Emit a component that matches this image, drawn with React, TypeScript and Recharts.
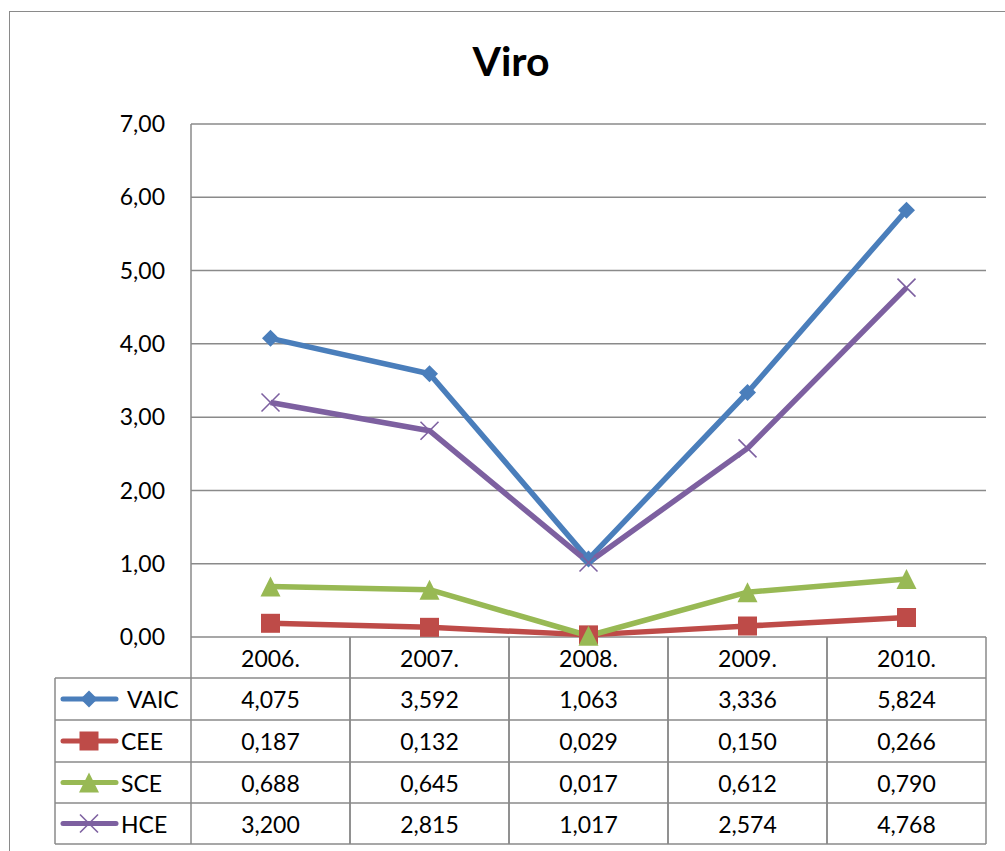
import React from 'react';
import { LineChart, Line, XAxis, YAxis, CartesianGrid } from 'recharts';

const categories = ['2006.', '2007.', '2008.', '2009.', '2010.'];
const VAIC = [4.075, 3.592, 1.063, 3.336, 5.824];
const CEE = [0.187, 0.132, 0.029, 0.150, 0.266];
const SCE = [0.688, 0.645, 0.017, 0.612, 0.790];
const HCE = [3.200, 2.815, 1.017, 2.574, 4.768];
const yTicks = [0, 1, 2, 3, 4, 5, 6, 7];
const seriesNames = ['VAIC', 'CEE', 'SCE', 'HCE'];
const seriesValues = [VAIC, CEE, SCE, HCE];

const COLORS = ['#4A7EBB', '#BE4B48', '#98B954', '#7D60A0'];
const GRID = '#8a8a8a';
const FONT = 'Lato, "Open Sans", sans-serif';

const data = categories.map((c, i) => ({
  cat: c,
  VAIC: VAIC[i],
  CEE: CEE[i],
  SCE: SCE[i],
  HCE: HCE[i],
}));

const W = 1005;
const H = 851;
const PLOT_LEFT = 191;
const PLOT_RIGHT = 986;
const PLOT_TOP = 124;
const PLOT_BOTTOM = 637;
const COL_W = (PLOT_RIGHT - PLOT_LEFT) / categories.length;
const ROW_OFF = [0, 41, 83, 125, 166, 207];
const LEG_LEFT = 55;
const FS = 23;

const fmt3 = (v: number) => v.toFixed(3).replace('.', ',');
const fmt2 = (v: number) => v.toFixed(2).replace('.', ',');

function Marker({ kind, cx, cy, color }: { kind: number; cx: number; cy: number; color: string }) {
  if (kind === 0) {
    const r = 8.5;
    return <polygon points={`${cx},${cy - r} ${cx + r},${cy} ${cx},${cy + r} ${cx - r},${cy}`} fill={color} />;
  }
  if (kind === 1) {
    const s = 19;
    return <rect x={cx - s / 2} y={cy - s / 2} width={s} height={s} fill={color} />;
  }
  if (kind === 2) {
    const s = 20;
    return (
      <polygon
        points={`${cx},${cy - s / 2} ${cx + s / 2},${cy + s / 2} ${cx - s / 2},${cy + s / 2}`}
        fill={color}
      />
    );
  }
  const r = 9;
  return (
    <g stroke={color} strokeWidth={1.6}>
      <line x1={cx - r} y1={cy - r} x2={cx + r} y2={cy + r} />
      <line x1={cx - r} y1={cy + r} x2={cx + r} y2={cy - r} />
    </g>
  );
}

const makeDot = (kind: number) => (props: any) => {
  const { cx, cy, index } = props;
  return (
    <g key={`dot-${kind}-${index}`}>
      <Marker kind={kind} cx={cx} cy={cy} color={COLORS[kind]} />
    </g>
  );
};

const TableTick = (props: any) => {
  const { x, y, payload } = props;
  const i = payload.index;
  const left = x - COL_W / 2;
  const right = x + COL_W / 2;
  const top = y;
  const textStyle = { fontFamily: FONT, fontSize: FS, fill: '#000' } as any;
  return (
    <g>
      {ROW_OFF.slice(1).map((o, k) => (
        <line key={`h${k}`} x1={left} x2={right} y1={top + o} y2={top + o} stroke={GRID} strokeWidth={1.5} />
      ))}
      <line x1={left} x2={left} y1={top} y2={top + ROW_OFF[5]} stroke={GRID} strokeWidth={1.5} />
      <line x1={right} x2={right} y1={top} y2={top + ROW_OFF[5]} stroke={GRID} strokeWidth={1.5} />
      <text x={x} y={top + (ROW_OFF[0] + ROW_OFF[1]) / 2} textAnchor="middle" dominantBaseline="central" style={textStyle}>
        {payload.value}
      </text>
      {seriesValues.map((vals, r) => (
        <text
          key={`v${r}`}
          x={x}
          y={top + (ROW_OFF[r + 1] + ROW_OFF[r + 2]) / 2}
          textAnchor="middle"
          dominantBaseline="central"
          style={textStyle}
        >
          {fmt3(vals[i])}
        </text>
      ))}
      {i === 0 && (
        <g>
          <line x1={LEG_LEFT} x2={left} y1={top + ROW_OFF[1]} y2={top + ROW_OFF[1]} stroke={GRID} strokeWidth={1.5} />
          <line x1={LEG_LEFT} x2={LEG_LEFT} y1={top + ROW_OFF[1]} y2={top + ROW_OFF[5]} stroke={GRID} strokeWidth={1.5} />
          {seriesNames.map((name, r) => {
            const cy = top + (ROW_OFF[r + 1] + ROW_OFF[r + 2]) / 2;
            const yb = top + ROW_OFF[r + 2];
            return (
              <g key={`l${r}`}>
                <line x1={LEG_LEFT} x2={left} y1={yb} y2={yb} stroke={GRID} strokeWidth={1.5} />
                <line x1={63} x2={116} y1={cy} y2={cy} stroke={COLORS[r]} strokeWidth={5} strokeLinecap="round" />
                <Marker kind={r} cx={89} cy={cy} color={COLORS[r]} />
                <text x={r === 0 ? 127 : 121} y={cy} dominantBaseline="central" style={textStyle}>
                  {name}
                </text>
              </g>
            );
          })}
        </g>
      )}
    </g>
  );
};

export default function App() {
  return (
    <div style={{ position: 'absolute', left: 0, top: 0, width: W, height: H, background: '#fff', overflow: 'hidden' }}>
      <div
        style={{
          position: 'absolute',
          left: 9,
          top: 11,
          width: W,
          height: H,
          borderLeft: '1.5px solid #8a8a8a',
          borderTop: '1.5px solid #8a8a8a',
        }}
      />
      <div
        style={{
          position: 'absolute',
          left: 0,
          width: 1022,
          top: 36,
          textAlign: 'center',
          fontFamily: FONT,
          fontWeight: 700,
          fontSize: 41,
          lineHeight: '50px',
          color: '#000',
        }}
      >
        Viro
      </div>
      <div style={{ position: 'absolute', left: 0, top: 0 }}>
        <LineChart
          width={W}
          height={H}
          data={data}
          margin={{ top: PLOT_TOP, right: W - PLOT_RIGHT, left: 0, bottom: H - PLOT_BOTTOM - 208 }}
        >
          <CartesianGrid vertical={false} stroke={GRID} strokeWidth={1.5} />
          <XAxis
            dataKey="cat"
            height={208}
            axisLine={false}
            tickLine={false}
            tickSize={0}
            tickMargin={0}
            interval={0}
            padding={{ left: COL_W / 2, right: COL_W / 2 }}
            tick={<TableTick />}
          />
          <YAxis
            width={PLOT_LEFT}
            domain={[0, 7]}
            ticks={yTicks}
            tickFormatter={fmt2}
            axisLine={{ stroke: GRID, strokeWidth: 1.5 }}
            tickLine={false}
            tickSize={6}
            tickMargin={20}
            tick={{ fontFamily: FONT, fontSize: FS, fill: '#000' }}
          />
          {seriesNames.map((name, k) => (
            <Line
              key={name}
              dataKey={name}
              stroke={COLORS[k]}
              strokeWidth={5.5}
              strokeLinejoin="round"
              dot={makeDot(k)}
              activeDot={false}
              isAnimationActive={false}
            />
          ))}
        </LineChart>
      </div>
    </div>
  );
}
